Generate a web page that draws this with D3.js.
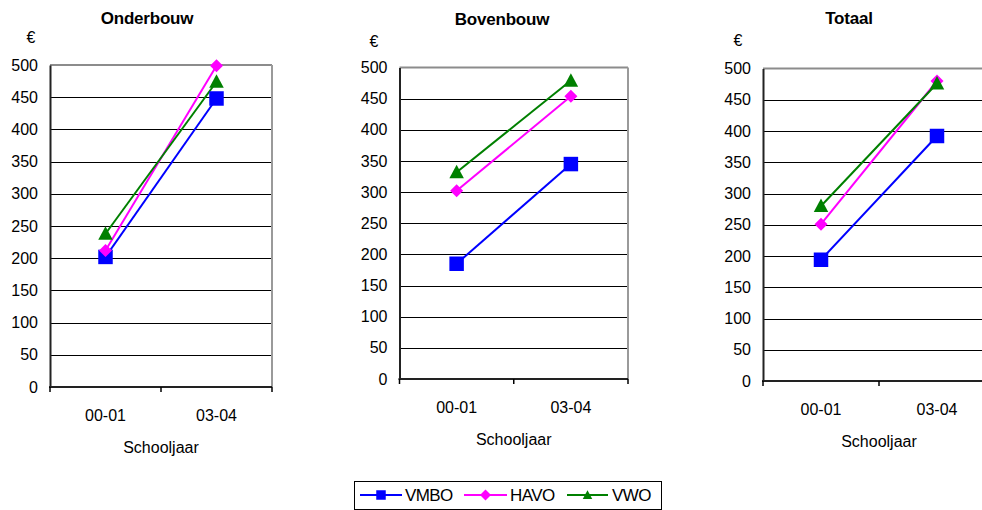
<!DOCTYPE html>
<html>
<head>
<meta charset="utf-8">
<script src="https://cdn.jsdelivr.net/npm/d3@7/dist/d3.min.js"></script>
<style>
  html, body { margin: 0; padding: 0; background: #fff; }
  svg { display: block; font-family: "Liberation Sans", Arial, sans-serif; }
</style>
</head>
<body>
<svg id="chart" width="982" height="510"></svg>
<script>
// ---- data ----
const categories = ["00-01", "03-04"];
const seriesNames = ["VMBO", "HAVO", "VWO"];
const panelTitles = ["Onderbouw", "Bovenbouw", "Totaal"];
// values per panel: [VMBO, HAVO, VWO] each over categories
const onderbouw = [[202, 448], [212, 499], [238, 474]];
const bovenbouw = [[185, 345], [302, 454], [332, 479]];
const totaal    = [[194, 392], [251, 480], [280, 476]];
const yTicks = [0, 50, 100, 150, 200, 250, 300, 350, 400, 450, 500];
const yUnit = "€";
const xTitle = "Schooljaar";

// ---- style / layout ----
const colors = ["#0000ff", "#ff00ff", "#008000"];
const shapes = ["square", "diamond", "triangle"];
const panelData = [onderbouw, bovenbouw, totaal];
const layout = [
  { left: 50,  right: 272, top: 65,   bottom: 387, titleX: 147, titleY: 24, euroX: 31,  euroY: 42.5 },
  { left: 399.5, right: 628, top: 67.5, bottom: 379, titleX: 502, titleY: 25, euroX: 374, euroY: 47 },
  { left: 763, right: 995, top: 68.5, bottom: 381, titleX: 849, titleY: 24, euroX: 738, euroY: 45.5 }
];

const svg = d3.select("#chart");

function markerPath(shape, size) {
  const p = d3.path();
  const h = size / 2;
  if (shape === "square") {
    p.rect(-h, -h, size, size);
  } else if (shape === "diamond") {
    p.moveTo(0, -h); p.lineTo(h, 0); p.lineTo(0, h); p.lineTo(-h, 0); p.closePath();
  } else {
    const hh = size * 0.93;
    p.moveTo(0, -hh * 0.55); p.lineTo(h, hh * 0.45); p.lineTo(-h, hh * 0.45); p.closePath();
  }
  return p.toString();
}
const markerSizes = { square: 14.5, diamond: 13, triangle: 14.5 };

panelData.forEach((pd, i) => {
  const L = layout[i];
  const g = svg.append("g");
  const x = d3.scaleBand().domain(categories).range([L.left, L.right]);
  const y = d3.scaleLinear().domain([0, 500]).range([L.bottom, L.top]);

  // gridlines
  g.selectAll("line.grid").data(yTicks.filter(t => t > 0 && t < 500)).enter()
    .append("line")
    .attr("x1", L.left).attr("x2", L.right)
    .attr("y1", d => Math.round(y(d)) + 0.5).attr("y2", d => Math.round(y(d)) + 0.5)
    .attr("stroke", "#000").attr("stroke-width", 1);

  // top & right border (grey)
  g.append("line").attr("x1", L.left).attr("x2", L.right)
    .attr("y1", y(500)).attr("y2", y(500))
    .attr("stroke", "#8c8c8c").attr("stroke-width", 2);
  g.append("line").attr("x1", L.right).attr("x2", L.right)
    .attr("y1", y(500)).attr("y2", y(0))
    .attr("stroke", "#9a9a9a").attr("stroke-width", 2);

  // y axis
  const yAxis = d3.axisLeft(y).tickValues(yTicks).tickSize(0).tickPadding(12);
  const ya = g.append("g").attr("transform", `translate(${L.left},0)`).call(yAxis);
  ya.select(".domain").attr("stroke", "#222").attr("stroke-width", 2);
  ya.selectAll("text").attr("font-size", 16).attr("fill", "#000")
    .attr("font-family", "'Liberation Sans', Arial, sans-serif");

  // x axis
  const xAxis = d3.axisBottom(x).tickSize(0).tickPadding(0);
  const xa = g.append("g").attr("transform", `translate(0,${L.bottom})`).call(xAxis);
  xa.select(".domain").remove();
  xa.selectAll(".tick text").attr("y", 34).attr("dy", 0).attr("font-size", 16).attr("fill", "#000")
    .attr("font-family", "'Liberation Sans', Arial, sans-serif");
  g.append("line").attr("x1", L.left - 1).attr("x2", L.right)
    .attr("y1", L.bottom).attr("y2", L.bottom)
    .attr("stroke", "#222").attr("stroke-width", 2);
  // band edge ticks
  const edges = [L.left, ...categories.map(c => x(c) + x.bandwidth())];
  g.selectAll("line.xt").data(edges).enter().append("line")
    .attr("x1", d => d).attr("x2", d => d)
    .attr("y1", L.bottom).attr("y2", L.bottom + 5)
    .attr("stroke", "#000").attr("stroke-width", 1.5);

  // series lines and markers
  pd.forEach((vals, s) => {
    const pts = vals.map((v, k) => [x(categories[k]) + x.bandwidth() / 2, y(v)]);
    g.append("path").attr("d", d3.line()(pts))
      .attr("fill", "none").attr("stroke", colors[s]).attr("stroke-width", 2);
  });
  pd.forEach((vals, s) => {
    vals.forEach((v, k) => {
      g.append("path")
        .attr("d", markerPath(shapes[s], markerSizes[shapes[s]]))
        .attr("transform", `translate(${x(categories[k]) + x.bandwidth() / 2},${y(v)})`)
        .attr("fill", colors[s]);
    });
  });

  // titles
  g.append("text").attr("x", L.titleX).attr("y", L.titleY)
    .attr("text-anchor", "middle").attr("font-size", 17).attr("font-weight", "bold")
    .attr("letter-spacing", -0.2).text(panelTitles[i]);
  g.append("text").attr("x", L.euroX).attr("y", L.euroY)
    .attr("text-anchor", "middle").attr("font-size", 16).text(yUnit);
  g.append("text").attr("x", (L.left + L.right) / 2).attr("y", L.bottom + 65.5)
    .attr("text-anchor", "middle").attr("font-size", 16).text(xTitle);
});

// legend
const leg = svg.append("g");
leg.append("rect").attr("x", 354.5).attr("y", 481.5).attr("width", 307).attr("height", 28)
  .attr("fill", "#fff").attr("stroke", "#000").attr("stroke-width", 1);
const legItems = [
  { x1: 360, x2: 402, tx: 405 },
  { x1: 464, x2: 507, tx: 510 },
  { x1: 567, x2: 608, tx: 612 }
];
seriesNames.forEach((name, s) => {
  const it = legItems[s];
  const cy = 495;
  leg.append("line").attr("x1", it.x1).attr("x2", it.x2).attr("y1", cy).attr("y2", cy)
    .attr("stroke", colors[s]).attr("stroke-width", 2);
  leg.append("path").attr("d", markerPath(shapes[s], shapes[s] === "diamond" ? 11 : 9.5))
    .attr("transform", `translate(${(it.x1 + it.x2) / 2},${cy})`).attr("fill", colors[s]);
  leg.append("text").attr("x", it.tx).attr("y", cy + 6).attr("font-size", 17)
    .attr("letter-spacing", -0.6).text(name);
});
</script>
</body>
</html>
